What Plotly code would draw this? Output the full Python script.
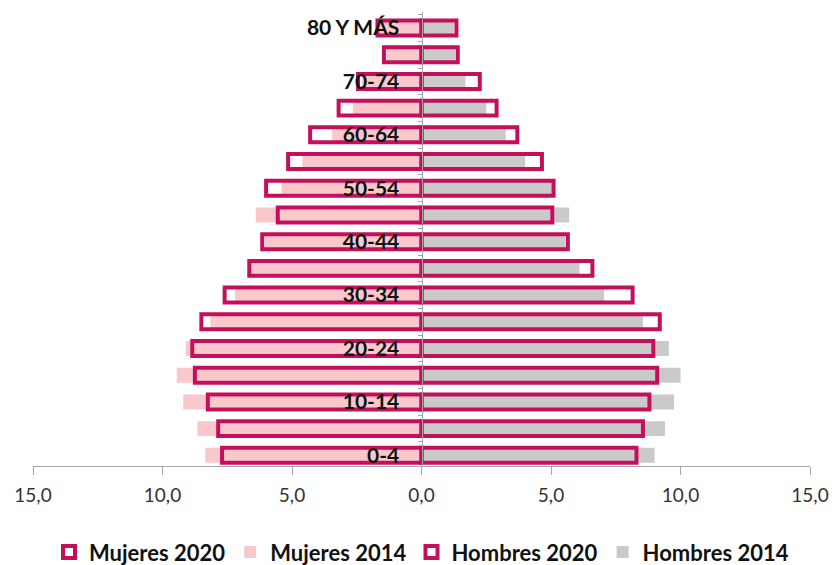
import plotly.graph_objects as go

ages = ["0-4", "5-9", "10-14", "15-19", "20-24", "25-29", "30-34", "35-39", "40-44",
        "45-49", "50-54", "55-59", "60-64", "65-69", "70-74", "75-79", "80 Y MÁS"]
mujeres_2020 = [7.7, 7.85, 8.25, 8.75, 8.85, 8.5, 7.6, 6.65, 6.15, 5.55, 6.0, 5.15, 4.3, 3.2, 2.45, 1.45, 1.7]
mujeres_2014 = [8.35, 8.65, 9.2, 9.45, 9.1, 8.15, 7.2, 6.6, 6.05, 6.4, 5.4, 4.6, 3.45, 2.65, 2.3, 1.35, 1.6]
hombres_2020 = [8.3, 8.55, 8.8, 9.1, 8.95, 9.2, 8.15, 6.6, 5.65, 5.05, 5.1, 4.65, 3.7, 2.9, 2.25, 1.4, 1.35]
hombres_2014 = [9.0, 9.4, 9.75, 10.0, 9.55, 8.55, 7.05, 6.1, 5.55, 5.7, 5.05, 4.0, 3.25, 2.5, 1.7, 1.3, 1.25]
x_ticks = [-15, -10, -5, 0, 5, 10, 15]
x_ticktext = ["15,0", "10,0", "5,0", "0,0", "5,0", "10,0", "15,0"]

CRIMSON = "#C4105C"
PINK = "#F9C8CB"
GREY = "#CACACA"
FONT = "Lato"

pos = list(range(len(ages)))
neg = lambda v: [-a for a in v]
BW = 0.56

fig = go.Figure()
# white interiors of 2020 bars
for vals in (neg(mujeres_2020), hombres_2020):
    fig.add_trace(go.Bar(y=pos, x=vals, orientation="h", width=BW,
                         marker=dict(color="white", line=dict(width=0)),
                         showlegend=False, hoverinfo="skip"))
# 2014 filled bars
fig.add_trace(go.Bar(y=pos, x=neg(mujeres_2014), orientation="h", width=BW, name="Mujeres 2014",
                     marker=dict(color=PINK, line=dict(width=0)), legendrank=2))
fig.add_trace(go.Bar(y=pos, x=hombres_2014, orientation="h", width=BW, name="Hombres 2014",
                     marker=dict(color=GREY, line=dict(width=0)), legendrank=4))
# 2020 outlines
fig.add_trace(go.Bar(y=pos, x=neg(mujeres_2020), orientation="h", width=BW, name="Mujeres 2020",
                     marker=dict(color="rgba(0,0,0,0)", line=dict(color=CRIMSON, width=4)), legendrank=1))
fig.add_trace(go.Bar(y=pos, x=hombres_2020, orientation="h", width=BW, name="Hombres 2020",
                     marker=dict(color="rgba(0,0,0,0)", line=dict(color=CRIMSON, width=4)), legendrank=3))

fig.update_layout(
    width=834, height=565,
    barmode="overlay",
    paper_bgcolor="white", plot_bgcolor="white",
    margin=dict(l=33, r=24, t=12, b=99, autoexpand=False),
    font=dict(family=FONT, color="#222222"),
    xaxis=dict(range=[-15, 15], tickvals=x_ticks, ticktext=x_ticktext, automargin=False,
               showgrid=False, zeroline=False, showline=True, linecolor="#A6A6A6", linewidth=1,
               ticks="outside", ticklen=8, tickcolor="#A6A6A6", ticklabelstandoff=4,
               tickfont=dict(family=FONT, size=19, color="#333333")),
    yaxis=dict(range=[-0.4, len(ages) - 0.4], anchor="free", position=0.5, automargin=False,
               tickvals=pos[::2], ticktext=ages[::2],
               showgrid=False, zeroline=False, showline=True, linecolor="#A6A6A6", linewidth=1,
               ticks="", ticklabelstandoff=18,
               minor=dict(tickvals=[p - 0.5 for p in pos] + [pos[-1] + 0.5], ticks="outside",
                          ticklen=4, tickcolor="#A6A6A6"),
               tickfont=dict(family=FONT, size=21, color="#111111", weight="bold")),
    legend=dict(orientation="h", x=0.5, xanchor="center", y=-0.19, yanchor="middle",
                font=dict(family=FONT, size=22, color="#111111", weight="bold"), traceorder="normal"),
)

fig.write_html("out.html", config={"displayModeBar": False},
               post_script="document.body.style.margin='0';document.body.style.overflow='hidden';")
